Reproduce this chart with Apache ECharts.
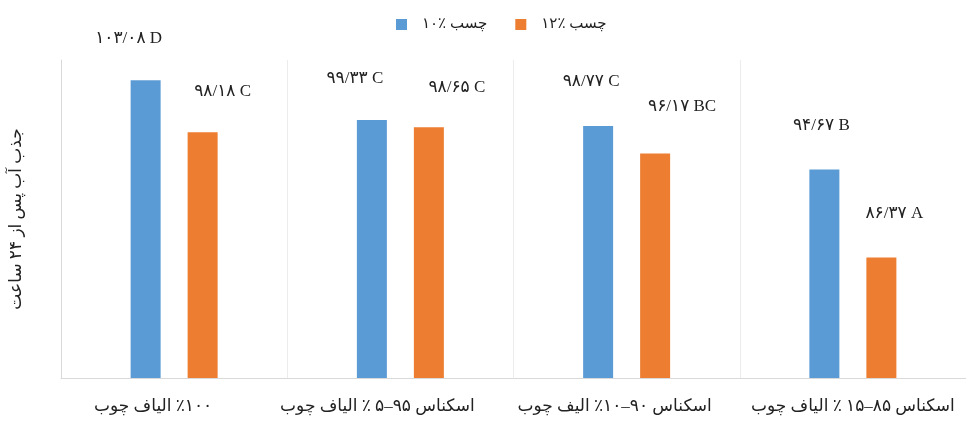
<!DOCTYPE html>
<html>
<head>
<meta charset="utf-8">
<script src="https://cdn.jsdelivr.net/npm/echarts@6/dist/echarts.min.js"></script>
<style>
  html, body { margin: 0; padding: 0; background: #ffffff; }
  #chart { width: 966px; height: 421px; }
</style>
</head>
<body>
<div id="chart"></div>
<script>
// Sample types (wood fibre / banknote blends)
const categories = [
  '٪۱۰۰ الیاف چوب',
  'اسکناس ۹۵–۵ ٪ الیاف چوب',
  'اسکناس ۹۰–۱۰٪ الیف چوب',
  'اسکناس ۸۵–۱۵ ٪ الیاف چوب'
];

// Water absorption after 24 hours for each adhesive content
const seriesNames = ['چسب ٪۱۰', 'چسب ٪۱۲'];
const glue10 = [103.08, 99.33, 98.77, 94.67];
const glue12 = [98.18, 98.65, 96.17, 86.37];

// Duncan grouping letters shown next to each value
const glue10Groups = ['D', 'C', 'C', 'B'];
const glue12Groups = ['C', 'C', 'BC', 'A'];

// Value axis range
const yMin = 75;
const yMax = 105;

// Small per-label nudges [dx, dy] so labels sit beside their bars
const glue10LabelShift = [[-17, 0], [-17, 0], [-7, -3], [-3, -2]];
const glue12LabelShift = [[20, 1], [28, 2], [27, -6], [13, -2]];
// Horizontal nudge of each category label from its category centre
const categoryLabelShift = [-21, -23, -12, 0];

const persianDigits = '۰۱۲۳۴۵۶۷۸۹';
function toPersianNumber(v) {
  return v.toFixed(2)
    .replace('.', '/')
    .replace(/[0-9]/g, d => persianDigits[+d]);
}

// Embed Persian text right-to-left inside the canvas' left-to-right context
function rtl(s) {
  return '\u202B' + s + '\u202C';
}

const serifFont = '"Liberation Serif", "DejaVu Serif", "DejaVu Sans", serif';
const arabicFont = '"Liberation Serif", "DejaVu Sans", sans-serif';

function buildData(values, groups, shifts) {
  return values.map((v, i) => ({
    value: v,
    label: {
      offset: shifts[i],
      formatter: () => toPersianNumber(v) + ' ' + groups[i]
    }
  }));
}

const categoryRich = {};
categoryLabelShift.forEach((dx, i) => {
  categoryRich['c' + i] = {
    color: '#222222',
    fontSize: 17,
    fontFamily: arabicFont,
    padding: dx < 0 ? [0, -2 * dx, 0, 0] : [0, 0, 0, 2 * dx]
  };
});

const chart = echarts.init(document.getElementById('chart'), null, { renderer: 'canvas' });

const barLabel = {
  show: true,
  position: 'top',
  distance: 33,
  color: '#222222',
  fontSize: 17,
  fontFamily: serifFont
};

chart.setOption({
  animation: false,
  backgroundColor: '#ffffff',
  color: ['#5B9BD5', '#ED7D31'],
  legend: {
    top: 12,
    left: 391,
    icon: 'rect',
    itemWidth: 11,
    itemHeight: 11,
    itemGap: 28,
    textStyle: {
      color: '#222222',
      fontSize: 15,
      fontFamily: arabicFont,
      padding: [0, 0, 0, 10]
    },
    formatter: name => rtl(name),
    data: seriesNames
  },
  grid: { left: 60, right: 0, top: 60, bottom: 43 },
  xAxis: {
    type: 'category',
    data: categories,
    axisLine: { show: true, lineStyle: { color: '#d9d9d9', width: 1 } },
    axisTick: { show: false },
    splitLine: { show: true, interval: 0, lineStyle: { color: '#ececec', width: 1 } },
    axisLabel: {
      interval: 0,
      margin: 20,
      color: '#222222',
      fontSize: 17,
      fontFamily: arabicFont,
      formatter: (value, index) => '{c' + index + '|' + rtl(value) + '}',
      rich: categoryRich
    }
  },
  yAxis: {
    type: 'value',
    min: yMin,
    max: yMax,
    name: rtl('جذب آب پس از ۲۴ ساعت'),
    nameLocation: 'middle',
    nameRotate: 90,
    nameGap: 36,
    nameTextStyle: { color: '#222222', fontSize: 17, fontFamily: arabicFont },
    axisLine: { show: true, lineStyle: { color: '#d9d9d9', width: 1 } },
    axisTick: { show: false },
    axisLabel: { show: false },
    splitLine: { show: false }
  },
  series: [
    {
      name: seriesNames[0],
      type: 'bar',
      barWidth: 30,
      barGap: '90%',
      label: barLabel,
      data: buildData(glue10, glue10Groups, glue10LabelShift)
    },
    {
      name: seriesNames[1],
      type: 'bar',
      barWidth: 30,
      barGap: '90%',
      label: barLabel,
      data: buildData(glue12, glue12Groups, glue12LabelShift)
    }
  ]
});
</script>
</body>
</html>
